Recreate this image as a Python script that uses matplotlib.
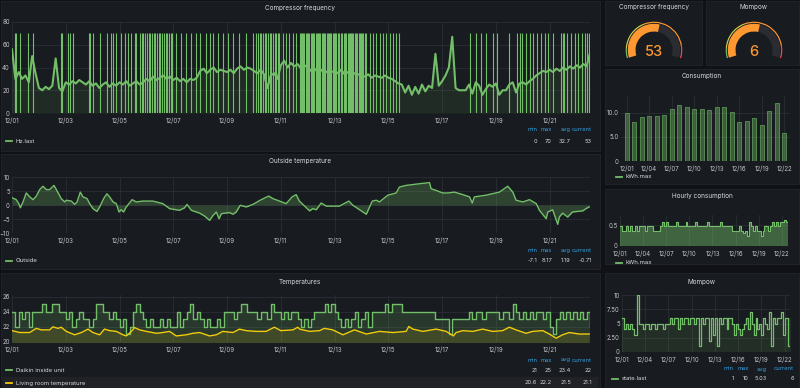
import numpy as np
import matplotlib
matplotlib.use('Agg')
import matplotlib.pyplot as plt
from matplotlib.patches import Rectangle, Wedge
from matplotlib.lines import Line2D

plt.rcParams['font.family'] = ['Inter', 'DejaVu Sans']

# ---------------- data (days since 12/01 00:00) ----------------
# compressor frequency, one value every 3 hours
hz_step = 0.125
hz_base = [
    56, 30, 36, 30, 33, 27, 50, 35,
    22, 20, 23, 21, 24, 48, 22, 19,
    27, 25, 28, 26, 29, 27, 25, 28,
    24, 26, 22, 25, 27, 23, 26, 24,
    27, 25, 28, 24, 26, 28, 25, 27,
    30, 28, 32, 29, 31, 33, 30, 32,
    29, 31, 28, 30, 27, 30, 29, 31,
    37, 39, 35, 38, 40, 36, 38, 37,
    36, 38, 35, 39, 41, 38, 40, 39,
    37, 35, 38, 34, 22, 33, 35, 30,
    42, 46, 40, 44, 41, 43, 39, 42,
    40, 37, 39, 36, 38, 35, 37, 36,
    37, 35, 38, 34, 36, 33, 35, 34,
    33, 32, 34, 31, 33, 32, 31, 33,
    31, 30, 28, 26, 25, 18, 24, 16,
    23, 17, 25, 19, 24, 22, 52, 24,
    28, 33, 40, 67, 22, 20, 20, 20,
    25, 17, 27, 24, 16, 21, 25, 23,
    26, 16, 20, 20, 25, 27, 18, 26,
    27, 25, 28, 30, 33, 35, 37, 36,
    38, 36, 39, 37, 40, 38, 41, 39,
    42, 40, 43, 41, 53,
]
# times where the compressor jumps between 0 and 70
hz_spikes = [
    0.10, 0.16, 0.31, 0.60, 0.78,
    1.81, 1.87, 2.08, 2.17, 2.27,
    2.86, 2.91, 3.01, 3.26, 3.53, 3.69, 3.75, 3.88,
    4.07, 4.19, 4.31, 4.44, 4.56, 4.62, 4.75, 4.82, 4.88, 4.95, 5.02,
    5.08, 5.14, 5.20, 5.27, 5.33, 5.40, 5.46, 5.52, 5.58, 5.65, 5.71,
    5.77, 5.84, 5.90, 5.97,
    6.11, 6.30, 6.48, 6.67, 6.85, 6.98,
    7.23, 7.35, 7.47, 7.66, 7.84, 8.03, 8.22, 8.46, 8.71, 8.96,
    9.09, 9.15, 9.21, 9.27, 9.33, 9.40, 9.46, 9.52, 9.58, 9.65, 9.71,
    9.77, 9.83, 9.89, 9.95,
    10.07, 10.20, 10.32, 10.45, 10.57, 10.70,
    10.74, 10.79, 10.83, 10.88, 10.92, 10.97, 11.02, 11.06, 11.11, 11.15,
    11.20, 11.24, 11.29, 11.33, 11.38, 11.43, 11.47, 11.52, 11.56, 11.61,
    11.66, 11.70, 11.75, 11.79, 11.84, 11.88, 11.93, 11.98, 12.02, 12.07,
    12.11, 12.16, 12.25, 12.29, 12.34, 12.38, 12.43, 12.48, 12.52, 12.57,
    12.61, 12.66, 12.70, 12.75, 12.80, 12.84, 12.89, 12.93, 12.98, 13.03,
    13.07, 13.12, 13.17,
    13.30, 13.42, 13.55, 13.67, 13.80, 13.92, 14.05, 14.17, 14.30, 14.41,
    17.05, 17.25, 17.45, 17.62, 17.90, 18.05, 18.50,
    18.78, 18.88, 18.98, 19.13, 19.26, 19.38, 19.53, 19.66, 19.82, 19.94,
    20.13, 20.41, 20.48, 20.53, 20.63, 20.78, 20.94, 21.07, 21.20, 21.32,
    21.40, 21.45,
]
hz_stats = ['0', '70', '32.7', '53']

outside_days = [
    0, 0.16, 0.25, 0.31, 0.41, 0.53, 0.66, 0.78, 0.9, 1.03, 1.15, 1.28, 1.4,
    1.56, 1.65, 1.83, 1.96, 2.02, 2.21, 2.33, 2.42, 2.54, 2.64, 2.79, 2.89,
    3.01, 3.16, 3.26, 3.41, 3.53, 3.63, 3.76, 3.88, 3.98, 4.06, 4.15, 4.25,
    4.47, 4.62, 4.87, 5.24, 5.61, 5.86, 6.23, 6.42, 6.51, 6.67, 6.98, 7.17,
    7.35, 7.48, 7.60, 7.70, 7.79, 8.09, 8.22, 8.34, 8.49, 8.71, 8.96, 9.27,
    9.55, 9.70, 9.95, 10.20, 10.42, 10.57, 10.69, 11.07, 11.19, 11.32, 11.50,
    11.69, 12.18, 12.53, 12.68, 13.18, 13.40, 13.55, 13.67, 13.98, 14.29,
    14.41, 14.66, 15.16, 15.53, 15.59, 15.78, 16.02, 16.21, 16.46, 16.77,
    17.02, 17.12, 17.20, 17.63, 18.13, 18.44, 18.63, 18.75, 19.0, 19.25,
    19.50, 19.62, 19.87, 19.93, 20.11, 20.30, 20.36, 20.48, 20.67, 20.85,
    21.23, 21.35, 21.47,
]
outside_vals = [
    2.6, 1.9, 0.5, -1.0, 1.1, 4.3, 2.9, 1.9, 3.1, 5.5, 6.7, 5.5, 5.5,
    7.0, 5.5, 2.3, 1.1, 1.7, 1.4, 0.2, 1.1, 4.6, 2.9, 2.3, 0.5,
    -1.3, -2.3, -0.7, 2.3, 4.0, 2.9, 1.1, 0.5, -2.5, -1.7, -2.5, -0.7,
    1.9, 1.1, 1.4, 1.4, 0.5, -1.3, -1.9, -1.0, 0.2, -1.9, -2.9, -4.0,
    -5.5, -3.7, -2.5, -4.9, -3.1, -2.7, -3.3, -2.5, -0.1, -0.7, 0.2, 1.9,
    3.2, 2.3, 1.4, 0.5, 2.9, 3.7, 1.4, -2.1, -1.3, -1.7, 0.7,
    -0.4, -0.4, 1.4, -0.1, -3.3, 1.4, 1.7, 1.1, 3.5, 4.3,
    6.4, 7.0, 7.6, 8.0, 5.8, 5.2, 4.3, 4.3, 4.6, 3.7,
    2.9, 0.7, 2.9, 3.5, 4.6, 6.7, 4.6, 1.7, 1.1, 1.9,
    0.5, -1.9, -4.9, -2.5, -1.7, -6.9, -4.3, -2.9, -4.3, -2.5,
    -2.1, -1.3, -0.7,
]
outside_stats = ['-7.1', '8.17', '1.19', '-0.71']

# Daikin inside unit, one value every 3 hours
daikin = [
    24, 22, 24, 23, 24, 22, 24, 24,
    24, 25, 24, 24, 25, 25, 24, 24,
    23, 24, 22, 23, 24, 23, 23, 22,
    23, 25, 25, 24, 24, 23, 24, 23,
    22, 23, 21, 22, 24, 25, 24, 23,
    22, 23, 22, 22, 23, 22, 23, 22,
    22, 24, 22, 23, 24, 25, 23, 24,
    23, 22, 23, 22, 22, 23, 22, 24,
    24, 24, 23, 24, 25, 25, 24, 24,
    24, 23, 24, 24, 23, 25, 24, 24,
    23, 24, 23, 24, 24, 23, 22, 23,
    22, 23, 24, 24, 24, 25, 24, 25,
    24, 23, 22, 23, 22, 23, 24, 22,
    23, 24, 22, 24, 24, 24, 24, 25,
    24, 25, 25, 25, 24, 24, 24, 24,
    24, 24, 24, 24, 24, 24, 23, 23,
    23, 23, 21, 23, 23, 23, 23, 23,
    24, 23, 24, 24, 23, 24, 24, 24,
    24, 23, 24, 24, 23, 25, 24, 23,
    24, 23, 24, 23, 24, 24, 23, 24,
    22, 21, 23, 24, 23, 24, 23, 24,
    23, 24, 23, 24, 22,
]
living_days = [
    0, 0.29, 0.66, 0.9, 1.09, 1.4, 1.52, 1.71, 1.83, 2.02, 2.33, 2.58, 2.83,
    3.01, 3.26, 3.44, 3.63, 3.88, 4.13, 4.25, 4.44, 4.56, 4.75, 5.0, 5.37,
    5.61, 5.86, 6.11, 6.48, 6.73, 6.98, 7.35, 7.6, 7.84, 8.22, 8.46, 8.71,
    9.08, 9.45, 9.76, 10.0, 10.45, 10.63, 10.7, 11.07, 11.44, 11.62, 11.93,
    12.31, 12.74, 13.18, 13.67, 14.17, 14.66, 14.76, 14.91, 15.28, 15.78,
    16.15, 16.42, 16.52, 16.77, 17.14, 17.51, 17.88, 18.25, 18.5, 18.75,
    19.12, 19.37, 19.74, 19.99, 20.24, 20.48, 20.73, 21.1, 21.47,
]
living_vals = [
    21.5, 21.25, 21.25, 21.8, 21.6, 21.6, 22.0, 21.8, 21.95, 21.4, 20.95, 21.25, 21.7,
    21.25, 20.95, 21.7, 21.5, 21.4, 20.95, 20.8, 21.4, 21.9, 21.6, 21.4, 21.15,
    21.25, 21.4, 20.8, 20.95, 21.15, 21.25, 20.8, 20.95, 21.4, 21.25, 21.7, 21.5,
    21.4, 21.4, 21.95, 21.5, 21.6, 21.95, 21.7, 21.4, 21.5, 21.8, 21.6,
    20.95, 21.6, 21.05, 21.4, 21.25, 21.4, 22.05, 21.7, 21.4, 21.7,
    21.4, 20.8, 21.25, 21.5, 21.4, 21.7, 21.4, 21.5, 21.95, 21.6,
    21.15, 21.4, 21.5, 21.05, 20.5, 20.95, 21.25, 21.05, 21.05,
]
daikin_stats = ['21', '25', '23.4', '22']
living_stats = ['20.6', '22.2', '21.5', '21.1']

# daily consumption (kWh), 12/01 .. 12/22
cons_kwh = [10.0, 8.1, 9.2, 9.3, 9.3, 9.6, 10.9, 11.7, 11.2, 10.8, 10.8,
            10.6, 11.2, 11.2, 10.2, 8.2, 8.4, 8.9, 7.5, 10.4, 12.0, 5.8]

# hourly consumption (kWh), one value every 6 hours
hourly_kwh = [
    .48, .37, .37, .48, .37, .48, .37, .37, .48, .37, .48, .48,
    .48, .37, .48, .48, .48, .37, .37, .37, .37, .48, .58, .48,
    .58, .48, .48, .48, .48, .58, .48, .48, .48, .48, .58, .48,
    .48, .48, .48, .58, .48, .48, .48, .48, .48, .58, .48, .48,
    .48, .48, .48, .48, .58, .48, .48, .48, .48, .48, .37, .37,
    .37, .37, .48, .37, .30, .37, .25, .58, .48, .37, .48, .37,
    .37, .25, .37, .48, .48, .37, .48, .58, .48, .58, .48, .58,
    .58, .62, .58, .58,
]

# Mompow state, one value every 6 hours
mompow_state = [
    6, 4, 5, 4, 5, 4, 3, 3, 10, 5, 5, 4, 5, 5, 4, 5, 5, 4, 5, 5,
    5, 4, 5, 5, 5, 6, 5, 6, 6, 4, 6, 5, 6, 6, 5, 6, 6, 5, 6, 6,
    1, 6, 5, 6, 6, 2, 6, 3, 6, 1, 6, 5, 6, 6, 4, 6, 6, 5, 3, 5,
    4, 3, 4, 5, 6, 4, 7, 5, 3, 6, 4, 5, 3, 6, 5, 4, 7, 1, 6, 5,
    6, 6, 7, 3, 6, 6, 1, 6, 6,
]
mompow_stats = ['1', '10', '5.03', '6']

gauge_titles = ['Compressor frequency', 'Mompow']
gauge_values = [53, 6]
gauge_max = [95, 10.7]

left_ticks = ['12/01', '12/03', '12/05', '12/07', '12/09', '12/11',
              '12/13', '12/15', '12/17', '12/19', '12/21']
right_ticks = ['12/01', '12/04', '12/07', '12/10', '12/13', '12/16',
               '12/19', '12/22']
stat_names = ['min', 'max', 'avg', 'current']

# ---------------- style ----------------
BG = '#111217'
PANEL = '#181b1f'
BORDER = '#22252b'
GRID = '#2b2e34'
TXT = '#d8d9de'
TICK = '#c4c5ca'
BLUE = '#33a2e5'
GREEN = '#73bf69'
YELLOW = '#f2cc0c'
ORANGE = '#ff9830'

W, H = 800, 388
fig = plt.figure(figsize=(W / 100, H / 100), dpi=100, facecolor=BG)


def panel(x0, y0, x1, y1):
    fig.add_artist(Rectangle((x0 / W, 1 - y1 / H), (x1 - x0) / W, (y1 - y0) / H,
                             transform=fig.transFigure, fc=PANEL, ec=BORDER,
                             lw=0.6, zorder=-5))


def ftext(x, y, s, **kw):
    kw.setdefault('va', 'center')
    kw.setdefault('color', TXT)
    kw.setdefault('fontsize', 4.3)
    fig.text(x / W, 1 - y / H, s, **kw)


def legend_dash(x, y, color):
    fig.add_artist(Line2D([x / W, (x + 6) / W], [1 - y / H] * 2, color=color,
                          lw=1.3, transform=fig.transFigure))


def px_axes(x0, y0, x1, y1):
    ax = fig.add_axes([x0 / W, 1 - y1 / H, (x1 - x0) / W, (y1 - y0) / H])
    ax.set_facecolor('none')
    for s in ax.spines.values():
        s.set_visible(False)
    ax.tick_params(length=0, labelsize=4.4, colors=TICK, pad=1.5)
    ax.tick_params(axis='x', pad=3)
    ax.grid(True, color=GRID, lw=0.6)
    ax.set_axisbelow(True)
    return ax


def stats_block(y_head, rows, cols):
    for name, x in zip(stat_names, cols):
        ftext(x, y_head, name, ha='right', color=BLUE, fontsize=4.1)
    for y, vals in rows:
        for v, x in zip(vals, cols):
            ftext(x, y, v, ha='right', fontsize=4.1)


# panels
panel(1, 1, 600, 151)
panel(1, 154, 600, 269)
panel(1, 273, 600, 388)
panel(605, 1, 702, 65)
panel(706, 1, 799, 65)
panel(605, 69, 799, 184)
panel(605, 189, 799, 264)
panel(605, 273, 799, 388)

# ---- Compressor frequency ----
ftext(300, 8, 'Compressor frequency', ha='center', fontsize=4.6)
ax = px_axes(12, 22, 590, 113)
t = np.arange(len(hz_base)) * hz_step
ax.vlines(hz_spikes, 0, 70, color=GREEN, lw=0.8)
ax.plot(t, hz_base, color=GREEN, lw=1.5)
ax.fill_between(t, hz_base, 0, color=GREEN, alpha=0.1, lw=0)
ax.set_xlim(0, 21.5)
ax.set_ylim(0, 80)
ax.set_yticks([0, 20, 40, 60, 80])
ax.set_xticks(np.arange(0, 21, 2))
ax.set_xticklabels(left_ticks)
legend_dash(6, 141, GREEN)
ftext(16, 141, 'Hz.last')
cols_left = [537, 552, 571, 592]
stats_block(130, [(141, hz_stats)], cols_left)

# ---- Outside temperature ----
ftext(300, 161, 'Outside temperature', ha='center', fontsize=4.6)
ax = px_axes(12, 177, 590, 233)
ax.plot(outside_days, outside_vals, color=GREEN, lw=1.0)
ax.fill_between(outside_days, outside_vals, 0, color=GREEN, alpha=0.25, lw=0)
ax.set_xlim(0, 21.5)
ax.set_ylim(-10, 10)
ax.set_yticks([-10, -5, 0, 5, 10])
ax.set_xticks(np.arange(0, 21, 2))
ax.set_xticklabels(left_ticks)
legend_dash(6, 261, GREEN)
ftext(16, 261, 'Outside')
stats_block(250, [(261, outside_stats)], cols_left)

# ---- Temperatures ----
ftext(300, 282, 'Temperatures', ha='center', fontsize=4.6)
ax = px_axes(12, 295, 590, 342)
td = np.arange(len(daikin)) * hz_step
ax.step(td, daikin, where='post', color=GREEN, lw=1.0)
ax.fill_between(td, daikin, 0, step='post', color=GREEN, alpha=0.18, lw=0)
ax.plot(living_days, living_vals, color=YELLOW, lw=1.0)
ax.fill_between(living_days, living_vals, 0, color=YELLOW, alpha=0.12, lw=0)
ax.set_xlim(0, 21.5)
ax.set_ylim(20, 26.2)
ax.set_yticks([20, 22, 24, 26])
ax.set_xticks(np.arange(0, 21, 2))
ax.set_xticklabels(left_ticks)
fig.add_artist(Rectangle((3 / W, 1 - 388 / H), 595 / W, 11 / H,
                         transform=fig.transFigure, fc='#202226', lw=0,
                         zorder=-4))
legend_dash(6, 370, GREEN)
ftext(16, 370, 'Daikin inside unit')
legend_dash(6, 383, YELLOW)
ftext(16, 383, 'Living room temperature')
stats_block(360, [(370, daikin_stats), (383, living_stats)], cols_left)

# ---- gauges ----
for title, val, vmax, cx in zip(gauge_titles, gauge_values, gauge_max, [654, 754]):
    ftext(cx, 7, title, ha='center', fontsize=4.6)
    gx = fig.add_axes([(cx - 34) / W, 1 - (50 + 34) / H, 68 / W, 68 / H])
    gx.set_xlim(-34, 34)
    gx.set_ylim(-34, 34)
    gx.axis('off')
    a0, a1 = 197, -17
    sweep = a0 - a1
    gx.add_patch(Wedge((0, 0), 26.2, a1, a0, width=7.7, fc='#2a2c31', lw=0))
    end = a0 - sweep * val / vmax
    gx.add_patch(Wedge((0, 0), 26.2, end, a0, width=7.7, fc=ORANGE, lw=0))
    # threshold ring: green, yellow, orange, red
    bands = [(0, 0.1, GREEN), (0.1, 0.4, '#cbd14a'), (0.4, 0.88, ORANGE),
             (0.88, 1.0, '#f2495c')]
    for f0, f1, c in bands:
        gx.add_patch(Wedge((0, 0), 28.3, a0 - sweep * f1, a0 - sweep * f0,
                           width=1.2, fc=c, lw=0))
    ftext(cx, 52, str(val), ha='center', color=ORANGE, fontsize=10.5,
          fontweight='medium')

# ---- Consumption ----
ftext(702, 76, 'Consumption', ha='center', fontsize=4.6)
ax = px_axes(621, 96, 790, 161)
ax.bar(np.arange(len(cons_kwh)), cons_kwh, width=0.55,
       color=(0.45, 0.75, 0.41, 0.4), edgecolor=GREEN, lw=0.4)
ax.set_xlim(-0.75, 21.75)
ax.set_ylim(0, 13.5)
ax.set_yticks([0, 5, 10])
ax.set_yticklabels(['0', '5.0', '10.0'])
ax.set_xticks(np.arange(0, 22, 3))
ax.set_xticklabels(right_ticks)
legend_dash(616, 177, GREEN)
ftext(626, 177, 'kWh.max')

# ---- Hourly consumption ----
ftext(702, 196, 'Hourly consumption', ha='center', fontsize=4.6)
ax = px_axes(620, 215, 788, 246)
th = np.arange(len(hourly_kwh)) * 0.25
ax.step(th, hourly_kwh, where='post', color=GREEN, lw=0.8)
ax.fill_between(th, hourly_kwh, 0, step='post', color=GREEN, alpha=0.45, lw=0)
ax.set_xlim(0, 21.8)
ax.set_ylim(0, 0.74)
ax.set_yticks([0, 0.5])
ax.set_yticklabels(['0', '0.5'])
ax.set_xticks(np.arange(0, 22, 3))
ax.set_xticklabels(right_ticks)
legend_dash(616, 263, GREEN)
ftext(626, 263, 'kWh.max')

# ---- Mompow ----
ftext(702, 282, 'Mompow', ha='center', fontsize=4.6)
ax = px_axes(622, 295, 790, 352)
tm = np.arange(len(mompow_state)) * 0.25
ax.step(tm, mompow_state, where='post', color=GREEN, lw=0.9)
ax.fill_between(tm, mompow_state, 0, step='post', color=GREEN, alpha=0.12, lw=0)
ax.set_xlim(0, 21.7)
ax.set_ylim(0, 10)
ax.set_yticks([0, 2.5, 5, 7.5, 10])
ax.set_yticklabels(['0', '2.50', '5', '7.50', '10'])
ax.set_xticks(np.arange(0, 22, 3))
ax.set_xticklabels(right_ticks)
legend_dash(612, 379, GREEN)
ftext(622, 379, 'state.last')
stats_block(369, [(379, mompow_stats)], [734, 749, 767, 794])

fig.savefig('out.png', dpi=100, facecolor=BG)
